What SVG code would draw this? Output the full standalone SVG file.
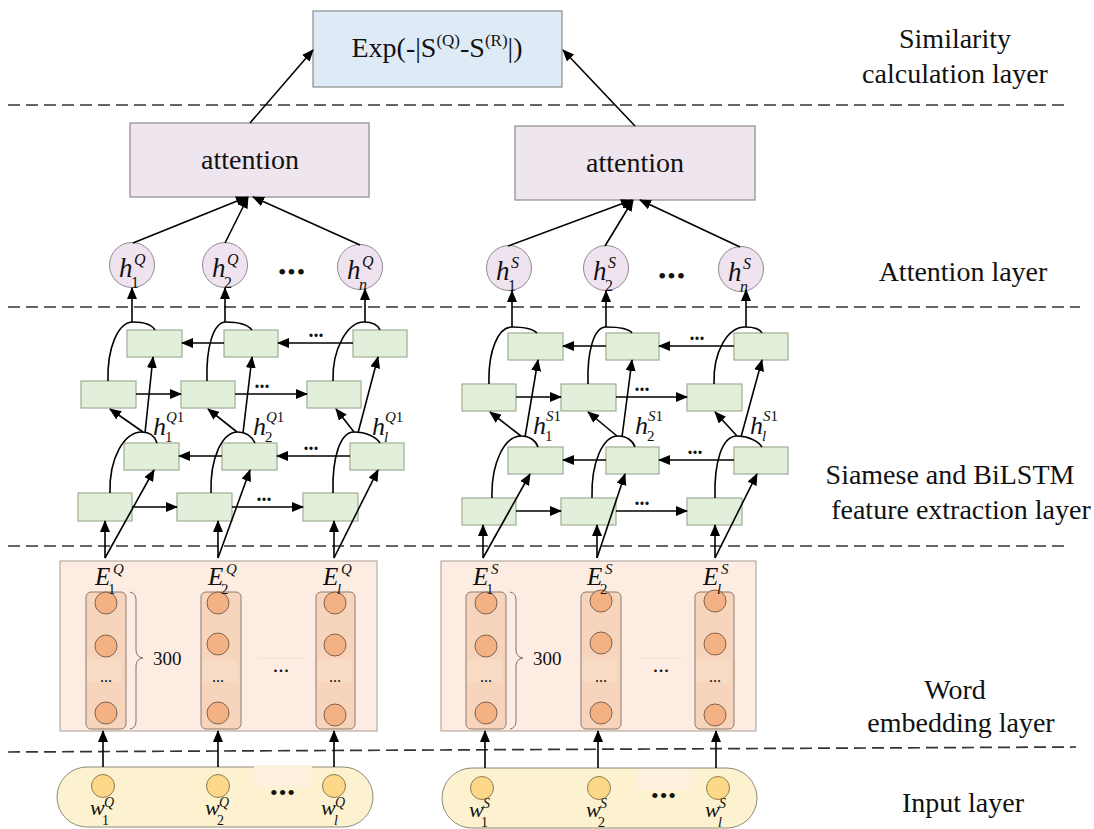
<svg xmlns="http://www.w3.org/2000/svg" width="1094" height="829" viewBox="0 0 1094 829">
  <defs>
    <marker id="ah" markerUnits="userSpaceOnUse" markerWidth="12" markerHeight="10" refX="11" refY="5" orient="auto">
      <path d="M0,0 L12,5 L0,10 z" fill="#000"/>
    </marker>
    <style>
      .t{font-family:"Liberation Serif","Times New Roman",serif;fill:#111}
      .it{font-style:italic}
      .lbl{font-size:28px;text-anchor:middle}
      .sim{fill:#deebf7;stroke:#8a8a8a;stroke-width:1.2}
      .att{fill:#efe5ef;stroke:#8e8890;stroke-width:1.2}
      .hnode{fill:#efe3ef;stroke:#8e8890;stroke-width:1}
      .lstm{fill:#e2efda;stroke:#9fae93;stroke-width:1.2}
      .emb{fill:#fcece1;stroke:#a89c94;stroke-width:1}
      .embcol{fill:#f7d5bc;stroke:#8c7b70;stroke-width:1}
      .embdot{fill:#f4b183;stroke:#7d6352;stroke-width:1}
      .band{fill:#f8dbc5}
      .inp{fill:#fdf2cf;stroke:#8f8a7a;stroke-width:1}
      .inpdot{fill:#fed889;stroke:#8e7d55;stroke-width:1}
      .conn{stroke:#000;stroke-width:1.6;fill:none}
      .arr{marker-end:url(#ah)}
      .dash{stroke:#333;stroke-width:1.7;stroke-dasharray:12 6;fill:none}
      .brace{stroke:#777;stroke-width:1;fill:none}
    </style>
  </defs>
  <rect width="1094" height="829" fill="#fff"/>

  <!-- layer separators -->
  <g id="separators">
    <line class="dash" x1="8" y1="105" x2="1066" y2="105"/>
    <line class="dash" x1="8" y1="307" x2="1080" y2="307"/>
    <line class="dash" x1="8" y1="546" x2="1068" y2="546"/>
    <line class="dash" x1="8" y1="752" x2="1076" y2="747"/>
  </g>

  <!-- layer names -->
  <g id="layer-names" class="t lbl">
    <text x="955" y="48">Similarity</text>
    <text x="955" y="83">calculation layer</text>
    <text x="963" y="281">Attention layer</text>
    <text x="950" y="484">Siamese and BiLSTM</text>
    <text x="961" y="519">feature extraction layer</text>
    <text x="955" y="699">Word</text>
    <text x="961" y="732">embedding layer</text>
    <text x="963" y="812">Input layer</text>
  </g>

  <!-- similarity node -->
  <g id="similarity">
    <rect class="sim" x="313" y="11" width="249" height="76"/>
    <text class="t" x="437" y="57" font-size="28" text-anchor="middle">Exp(-|S<tspan font-size="17" dy="-11">(Q)</tspan><tspan font-size="28" dy="11">-S</tspan><tspan font-size="17" dy="-11">(R)</tspan><tspan font-size="28" dy="11">|)</tspan></text>
  </g>

  <!-- attention nodes -->
  <g id="attention-q">
    <rect class="att" x="130" y="123" width="239" height="74"/>
    <text class="t" x="250" y="169" font-size="28" text-anchor="middle">attention</text>
  </g>
  <g id="attention-s">
    <rect class="att" x="515" y="126" width="240" height="74"/>
    <text class="t" x="635" y="172" font-size="28" text-anchor="middle">attention</text>
  </g>

  <!-- hidden-state nodes, Q branch -->
  <g id="hidden-q">
    <circle class="hnode" cx="132" cy="265" r="22.5"/>
    <circle class="hnode" cx="225" cy="265" r="22.5"/>
    <circle class="hnode" cx="360" cy="267" r="22.5"/>
    <g class="t">
      <text class="it" x="119" y="277" font-size="27">h</text>
      <text class="it" x="134" y="265" font-size="16">Q</text>
      <text x="131" y="288" font-size="16">1</text>
      <text class="it" x="212" y="277" font-size="27">h</text>
      <text class="it" x="227" y="265" font-size="16">Q</text>
      <text x="224" y="288" font-size="16">2</text>
      <text class="it" x="347" y="279" font-size="27">h</text>
      <text class="it" x="362" y="267" font-size="16">Q</text>
      <text class="it" x="359" y="290" font-size="16">n</text>
      <text x="292" y="280" font-size="24" text-anchor="middle" letter-spacing="1">•••</text>
    </g>
  </g>

  <!-- hidden-state nodes, S branch -->
  <g id="hidden-s">
    <circle class="hnode" cx="509" cy="268" r="22.5"/>
    <circle class="hnode" cx="606" cy="268" r="22.5"/>
    <circle class="hnode" cx="741" cy="269" r="22.5"/>
    <g class="t">
      <text class="it" x="496" y="280" font-size="27">h</text>
      <text class="it" x="511" y="268" font-size="16">S</text>
      <text x="508" y="291" font-size="16">1</text>
      <text class="it" x="593" y="280" font-size="27">h</text>
      <text class="it" x="608" y="268" font-size="16">S</text>
      <text x="605" y="291" font-size="16">2</text>
      <text class="it" x="728" y="281" font-size="27">h</text>
      <text class="it" x="743" y="269" font-size="16">S</text>
      <text class="it" x="740" y="292" font-size="16">n</text>
      <text x="672" y="284" font-size="24" text-anchor="middle" letter-spacing="1">•••</text>
    </g>
  </g>

  <!-- BiLSTM cells, Q branch -->
  <g id="bilstm-q">
    <rect class="lstm" x="127" y="330" width="55" height="27"/>
    <rect class="lstm" x="224" y="330" width="54" height="27"/>
    <rect class="lstm" x="353" y="330" width="54" height="27"/>
    <rect class="lstm" x="81" y="381" width="55" height="27"/>
    <rect class="lstm" x="181" y="381" width="54" height="27"/>
    <rect class="lstm" x="307" y="381" width="54" height="27"/>
    <rect class="lstm" x="124" y="443" width="55" height="27"/>
    <rect class="lstm" x="222" y="443" width="55" height="27"/>
    <rect class="lstm" x="350" y="443" width="54" height="27"/>
    <rect class="lstm" x="78" y="493" width="54" height="28"/>
    <rect class="lstm" x="177" y="493" width="55" height="28"/>
    <rect class="lstm" x="303" y="493" width="55" height="28"/>
    <g class="t" font-size="20" font-weight="bold" text-anchor="middle">
      <text x="316" y="337">...</text>
      <text x="262" y="388">...</text>
      <text x="311" y="450">...</text>
      <text x="264" y="501">...</text>
    </g>
    <g class="t">
      <text class="it" x="153" y="435" font-size="26">h</text>
      <text x="166" y="422" font-size="15"><tspan class="it">Q</tspan>1</text>
      <text x="165" y="442" font-size="15">1</text>
      <text class="it" x="253" y="435" font-size="26">h</text>
      <text x="266" y="422" font-size="15"><tspan class="it">Q</tspan>1</text>
      <text x="265" y="442" font-size="15">2</text>
      <text class="it" x="372" y="435" font-size="26">h</text>
      <text x="385" y="422" font-size="15"><tspan class="it">Q</tspan>1</text>
      <text class="it" x="384" y="442" font-size="15">l</text>
    </g>
  </g>

  <!-- BiLSTM cells, S branch -->
  <g id="bilstm-s">
    <rect class="lstm" x="508" y="333" width="55" height="27"/>
    <rect class="lstm" x="606" y="333" width="53" height="27"/>
    <rect class="lstm" x="734" y="333" width="54" height="27"/>
    <rect class="lstm" x="462" y="384" width="54" height="27"/>
    <rect class="lstm" x="561" y="384" width="55" height="27"/>
    <rect class="lstm" x="687" y="384" width="55" height="27"/>
    <rect class="lstm" x="508" y="447" width="55" height="27"/>
    <rect class="lstm" x="606" y="447" width="53" height="27"/>
    <rect class="lstm" x="734" y="447" width="54" height="27"/>
    <rect class="lstm" x="462" y="498" width="54" height="27"/>
    <rect class="lstm" x="561" y="498" width="55" height="27"/>
    <rect class="lstm" x="687" y="498" width="55" height="27"/>
    <g class="t" font-size="20" font-weight="bold" text-anchor="middle">
      <text x="697" y="340">...</text>
      <text x="642" y="391">...</text>
      <text x="695" y="454">...</text>
      <text x="642" y="505">...</text>
    </g>
    <g class="t">
      <text class="it" x="533" y="434" font-size="26">h</text>
      <text x="546" y="421" font-size="15"><tspan class="it">S</tspan>1</text>
      <text x="545" y="441" font-size="15">1</text>
      <text class="it" x="635" y="434" font-size="26">h</text>
      <text x="648" y="421" font-size="15"><tspan class="it">S</tspan>1</text>
      <text x="647" y="441" font-size="15">2</text>
      <text class="it" x="750" y="434" font-size="26">h</text>
      <text x="763" y="421" font-size="15"><tspan class="it">S</tspan>1</text>
      <text class="it" x="762" y="441" font-size="15">l</text>
    </g>
  </g>

  <!-- word embedding, Q branch -->
  <g id="embedding-q">
    <rect class="emb" x="60" y="561" width="317" height="170"/>
    <rect x="258" y="657" width="46" height="2" fill="#fbe6d6"/>
    <rect class="embcol" x="86" y="592" width="40" height="137" rx="5"/>
    <rect class="embcol" x="201" y="592" width="40" height="137" rx="5"/>
    <rect class="embcol" x="316" y="592" width="39" height="137" rx="5"/>
    <rect class="band" x="87" y="659" width="35" height="23"/>
    <rect class="band" x="202" y="659" width="35" height="23"/>
    <rect class="band" x="317" y="659" width="35" height="23"/>
    <circle class="embdot" cx="106" cy="603" r="11"/>
    <circle class="embdot" cx="106" cy="646" r="11"/>
    <circle class="embdot" cx="106" cy="713" r="11"/>
    <circle class="embdot" cx="218" cy="603" r="11"/>
    <circle class="embdot" cx="218" cy="644" r="11"/>
    <circle class="embdot" cx="218" cy="713" r="11"/>
    <circle class="embdot" cx="335" cy="603" r="11"/>
    <circle class="embdot" cx="335" cy="645" r="11"/>
    <circle class="embdot" cx="335" cy="715" r="11"/>
    <path class="brace" d="M130,592 Q136,593 136,600 L136,650 Q136,657 143,658 Q136,659 136,666 L136,721 Q136,728 130,729"/>
    <g class="t">
      <text x="153" y="665" font-size="19">300</text>
      <text x="106" y="682" font-size="16" text-anchor="middle">...</text>
      <text x="218" y="682" font-size="16" text-anchor="middle">...</text>
      <text x="335" y="682" font-size="16" text-anchor="middle">...</text>
      <text x="281" y="672" font-size="22" text-anchor="middle">...</text>
      <text class="it" x="95" y="585" font-size="25">E</text>
      <text class="it" x="113" y="574" font-size="15">Q</text>
      <text x="108" y="594" font-size="15">1</text>
      <text class="it" x="208" y="585" font-size="25">E</text>
      <text class="it" x="226" y="574" font-size="15">Q</text>
      <text x="221" y="594" font-size="15">2</text>
      <text class="it" x="323" y="585" font-size="25">E</text>
      <text class="it" x="341" y="574" font-size="15">Q</text>
      <text class="it" x="337" y="594" font-size="15">l</text>
    </g>
  </g>

  <!-- word embedding, S branch -->
  <g id="embedding-s">
    <rect class="emb" x="441" y="561" width="315" height="170"/>
    <rect x="638" y="657" width="46" height="2" fill="#fbe6d6"/>
    <rect class="embcol" x="466" y="592" width="40" height="137" rx="5"/>
    <rect class="embcol" x="581" y="592" width="40" height="137" rx="5"/>
    <rect class="embcol" x="695" y="592" width="39" height="137" rx="5"/>
    <rect class="band" x="467" y="659" width="35" height="23"/>
    <rect class="band" x="582" y="659" width="35" height="23"/>
    <rect class="band" x="696" y="659" width="35" height="23"/>
    <circle class="embdot" cx="486" cy="603" r="11"/>
    <circle class="embdot" cx="486" cy="646" r="11"/>
    <circle class="embdot" cx="486" cy="713" r="11"/>
    <circle class="embdot" cx="601" cy="601" r="11"/>
    <circle class="embdot" cx="601" cy="643" r="11"/>
    <circle class="embdot" cx="601" cy="713" r="11"/>
    <circle class="embdot" cx="715" cy="601" r="11"/>
    <circle class="embdot" cx="715" cy="644" r="11"/>
    <circle class="embdot" cx="715" cy="715" r="11"/>
    <path class="brace" d="M510,592 Q516,593 516,600 L516,650 Q516,657 523,658 Q516,659 516,666 L516,721 Q516,728 510,729"/>
    <g class="t">
      <text x="533" y="665" font-size="19">300</text>
      <text x="486" y="682" font-size="16" text-anchor="middle">...</text>
      <text x="601" y="682" font-size="16" text-anchor="middle">...</text>
      <text x="715" y="682" font-size="16" text-anchor="middle">...</text>
      <text x="661" y="672" font-size="22" text-anchor="middle">...</text>
      <text class="it" x="473" y="585" font-size="25">E</text>
      <text class="it" x="491" y="574" font-size="15">S</text>
      <text x="486" y="594" font-size="15">1</text>
      <text class="it" x="587" y="585" font-size="25">E</text>
      <text class="it" x="605" y="574" font-size="15">S</text>
      <text x="600" y="594" font-size="15">2</text>
      <text class="it" x="703" y="585" font-size="25">E</text>
      <text class="it" x="721" y="574" font-size="15">S</text>
      <text class="it" x="717" y="594" font-size="15">l</text>
    </g>
  </g>

  <!-- input words, Q branch -->
  <g id="input-q">
    <rect class="inp" x="57" y="767" width="316" height="60" rx="30"/>
    <rect x="254" y="765" width="58" height="23" fill="#fdf0dc"/>
    <circle class="inpdot" cx="103" cy="786" r="11.5"/>
    <circle class="inpdot" cx="218" cy="786" r="11.5"/>
    <circle class="inpdot" cx="334" cy="786" r="11.5"/>
    <g class="t">
      <text x="283" y="800" font-size="22" text-anchor="middle" letter-spacing="1">•••</text>
      <text class="it" x="90" y="815" font-size="22">w</text>
      <text class="it" x="104" y="807" font-size="14">Q</text>
      <text x="102" y="825" font-size="14">1</text>
      <text class="it" x="205" y="815" font-size="22">w</text>
      <text class="it" x="219" y="807" font-size="14">Q</text>
      <text x="217" y="825" font-size="14">2</text>
      <text class="it" x="321" y="815" font-size="22">w</text>
      <text class="it" x="335" y="807" font-size="14">Q</text>
      <text class="it" x="334" y="825" font-size="14">l</text>
    </g>
  </g>

  <!-- input words, S branch -->
  <g id="input-s">
    <rect class="inp" x="442" y="768" width="315" height="60" rx="30"/>
    <rect x="635" y="769" width="58" height="21" fill="#fdf0dc"/>
    <circle class="inpdot" cx="482" cy="788" r="11.5"/>
    <circle class="inpdot" cx="599" cy="788" r="11.5"/>
    <circle class="inpdot" cx="718" cy="788" r="11.5"/>
    <g class="t">
      <text x="664" y="803" font-size="22" text-anchor="middle" letter-spacing="1">•••</text>
      <text class="it" x="469" y="817" font-size="22">w</text>
      <text class="it" x="483" y="808" font-size="14">S</text>
      <text x="481" y="827" font-size="14">1</text>
      <text class="it" x="586" y="817" font-size="22">w</text>
      <text class="it" x="600" y="808" font-size="14">S</text>
      <text x="598" y="827" font-size="14">2</text>
      <text class="it" x="705" y="817" font-size="22">w</text>
      <text class="it" x="719" y="808" font-size="14">S</text>
      <text class="it" x="718" y="827" font-size="14">l</text>
    </g>
  </g>

  <!-- connectors -->
  <g id="connectors" class="conn">
    <!-- to similarity -->
    <line class="arr" x1="250" y1="123" x2="313" y2="50"/>
    <line class="arr" x1="635" y1="126" x2="563" y2="50"/>
    <!-- hidden states to attention -->
    <line class="arr" x1="133" y1="243" x2="247" y2="197"/>
    <line class="arr" x1="225" y1="243" x2="248" y2="197"/>
    <line class="arr" x1="360" y1="245" x2="253" y2="197"/>
    <line class="arr" x1="508" y1="246" x2="632" y2="200"/>
    <line class="arr" x1="605" y1="246" x2="633" y2="200"/>
    <line class="arr" x1="740" y1="247" x2="640" y2="200"/>

    <!-- Q: outputs to hidden states -->
    <line class="arr" x1="132" y1="322" x2="132" y2="288"/>
    <line class="arr" x1="225" y1="322" x2="225" y2="288"/>
    <line class="arr" x1="365" y1="322" x2="365" y2="289"/>
    <!-- Q: merge curves -->
    <path d="M108,381 C107,348 118,322 133,322 C144,322 152,325 155,330"/>
    <path d="M207,381 C206,348 213,322 226,322 C238,322 248,325 252,330"/>
    <path d="M333,381 C332,348 348,322 364,322 C372,322 378,325 380,330"/>
    <path d="M110,493 C109,458 124,432 142,432 C150,432 155,437 157,443"/>
    <path d="M211,493 C210,458 222,432 238,432 C246,432 252,437 255,443"/>
    <path d="M333,493 C332,458 340,432 354,432 C366,432 376,437 380,443"/>
    <!-- Q: first layer to second layer -->
    <line class="arr" x1="143" y1="432" x2="110" y2="409"/>
    <line class="arr" x1="145" y1="433" x2="153" y2="357"/>
    <line class="arr" x1="237" y1="432" x2="208" y2="409"/>
    <line class="arr" x1="243" y1="433" x2="252" y2="357"/>
    <line class="arr" x1="354" y1="432" x2="336" y2="409"/>
    <line class="arr" x1="358" y1="433" x2="378" y2="357"/>
    <!-- Q: recurrent links -->
    <line class="arr" x1="353" y1="343" x2="278" y2="343"/>
    <line class="arr" x1="224" y1="343" x2="182" y2="343"/>
    <line class="arr" x1="136" y1="394" x2="181" y2="394"/>
    <line class="arr" x1="235" y1="394" x2="307" y2="394"/>
    <line class="arr" x1="350" y1="456" x2="277" y2="456"/>
    <line class="arr" x1="222" y1="456" x2="179" y2="456"/>
    <line class="arr" x1="132" y1="507" x2="177" y2="507"/>
    <line class="arr" x1="232" y1="507" x2="303" y2="507"/>
    <!-- Q: embeddings into first layer -->
    <line class="arr" x1="105" y1="558" x2="105" y2="521"/>
    <line class="arr" x1="105" y1="558" x2="154" y2="470"/>
    <line class="arr" x1="218" y1="558" x2="218" y2="521"/>
    <line class="arr" x1="218" y1="558" x2="250" y2="470"/>
    <line class="arr" x1="334" y1="558" x2="334" y2="521"/>
    <line class="arr" x1="334" y1="558" x2="378" y2="470"/>
    <!-- Q: words into embeddings -->
    <line class="arr" x1="103" y1="767" x2="103" y2="731"/>
    <line class="arr" x1="218" y1="767" x2="218" y2="731"/>
    <line class="arr" x1="334" y1="767" x2="334" y2="731"/>

    <!-- S: outputs to hidden states -->
    <line class="arr" x1="512" y1="327" x2="512" y2="291"/>
    <line class="arr" x1="606" y1="327" x2="606" y2="291"/>
    <line class="arr" x1="746" y1="327" x2="746" y2="290"/>
    <!-- S: merge curves -->
    <path d="M489,384 C488,351 498,327 512,327 C524,327 533,329 537,333"/>
    <path d="M588,384 C587,351 594,327 606,327 C620,327 629,329 632,333"/>
    <path d="M714,384 C713,351 728,327 745,327 C754,327 760,329 762,333"/>
    <path d="M492,498 C491,462 505,436 521,436 C530,436 536,441 538,447"/>
    <path d="M592,498 C591,462 603,436 618,436 C627,436 633,441 635,447"/>
    <path d="M715,498 C714,462 722,436 737,436 C748,436 758,441 762,447"/>
    <!-- S: first layer to second layer -->
    <line class="arr" x1="521" y1="436" x2="490" y2="412"/>
    <line class="arr" x1="525" y1="437" x2="538" y2="360"/>
    <line class="arr" x1="617" y1="436" x2="588" y2="412"/>
    <line class="arr" x1="622" y1="437" x2="632" y2="360"/>
    <line class="arr" x1="737" y1="436" x2="715" y2="412"/>
    <line class="arr" x1="741" y1="437" x2="762" y2="360"/>
    <!-- S: recurrent links -->
    <line class="arr" x1="734" y1="346" x2="659" y2="346"/>
    <line class="arr" x1="606" y1="346" x2="563" y2="346"/>
    <line class="arr" x1="516" y1="397" x2="561" y2="397"/>
    <line class="arr" x1="616" y1="397" x2="687" y2="397"/>
    <line class="arr" x1="734" y1="460" x2="659" y2="460"/>
    <line class="arr" x1="606" y1="460" x2="563" y2="460"/>
    <line class="arr" x1="516" y1="511" x2="561" y2="511"/>
    <line class="arr" x1="616" y1="511" x2="687" y2="511"/>
    <!-- S: embeddings into first layer -->
    <line class="arr" x1="483" y1="558" x2="483" y2="525"/>
    <line class="arr" x1="483" y1="558" x2="530" y2="474"/>
    <line class="arr" x1="597" y1="558" x2="597" y2="525"/>
    <line class="arr" x1="597" y1="558" x2="625" y2="474"/>
    <line class="arr" x1="715" y1="558" x2="715" y2="525"/>
    <line class="arr" x1="715" y1="558" x2="757" y2="474"/>
    <!-- S: words into embeddings -->
    <line class="arr" x1="485" y1="768" x2="485" y2="731"/>
    <line class="arr" x1="598" y1="768" x2="598" y2="731"/>
    <line class="arr" x1="716" y1="768" x2="716" y2="731"/>
  </g>
</svg>
